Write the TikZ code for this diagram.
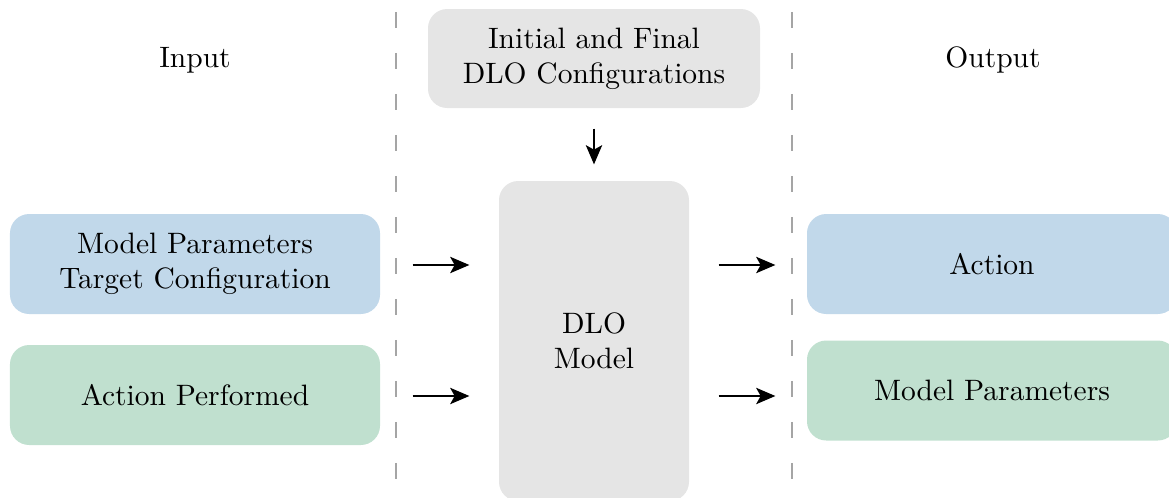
\documentclass[tikz,border=0pt]{standalone}
\usetikzlibrary{arrows.meta,calc}
\definecolor{boxblue}{RGB}{193,216,234}
\definecolor{boxgreen}{RGB}{192,224,207}
\definecolor{boxgray}{RGB}{229,229,229}
\definecolor{dashgray}{RGB}{165,165,165}
\begin{document}
\begin{tikzpicture}[x=0.339pt,y=-0.339pt,
  box/.style={rectangle, rounded corners=6.5pt, align=center, inner sep=0pt},
  wbox/.style={box, minimum width={370*0.339pt}, minimum height={100*0.339pt}},
  flow/.style={-{Stealth[length=6.5pt,width=5.5pt,inset=1.5pt]}, line width=0.8pt},
  sep/.style={dashgray, line width=0.6pt, dash pattern=on 5.5pt off 8.4pt, dash phase=-4pt}]
\useasboundingbox (0,0) rectangle (1169,497);
\clip (0,0) rectangle (1169,497);
% separators
\coordinate (s1t) at (396,0);
\coordinate (s1b) at (396,497);
\coordinate (s2t) at (792,0);
\coordinate (s2b) at (792,497);
\draw[sep] (s1t) -- (s1b);
\draw[sep] (s2t) -- (s2b);
% labels
\node (in) at (195,60) {Input};
\node (out) at (993,60) {Output};
% boxes
\node[box, fill=boxgray, minimum width={332*0.339pt}, minimum height={99*0.339pt}] (init) at (594,58.5) {Initial and Final\\DLO Configurations};
\node[box, fill=boxgray, minimum width={190*0.339pt}, minimum height={320*0.339pt}] (dlo) at (594,341) {DLO\\Model};
\node[wbox, fill=boxblue] (mp) at (195,264) {Model Parameters\\Target Configuration};
\node[wbox, fill=boxgreen] (ap) at (195,395) {Action Performed};
\node[wbox, fill=boxblue] (act) at (992,264) {Action};
\node[wbox, fill=boxgreen] (mpo) at (992,390.5) {Model Parameters};
% arrows
\draw[flow] ($(init.south)+(0,20)$) -- ($(dlo.north)+(0,-16)$);
\draw[flow] ($(mp.east)+(32,1)$) -- ($(dlo.west |- mp.east)+(-29,1)$);
\draw[flow] ($(ap.east)+(32,1)$) -- ($(dlo.west |- ap.east)+(-29,1)$);
\draw[flow] ($(dlo.east |- act.west)+(29,1)$) -- ($(act.west)+(-31,1)$);
\draw[flow] ($(dlo.east |- ap.east)+(29,1)$) -- ($(mpo.west |- ap.east)+(-31,1)$);
\end{tikzpicture}
\end{document}
